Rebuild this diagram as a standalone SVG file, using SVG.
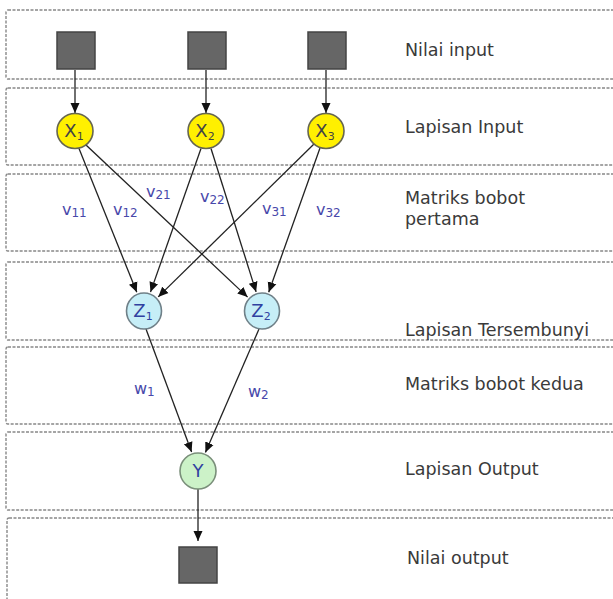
<svg xmlns="http://www.w3.org/2000/svg" width="613" height="599" viewBox="0 0 613 599">
<defs>
<marker id="ah" viewBox="0 0 10 10" refX="10" refY="5" markerWidth="10" markerHeight="10" markerUnits="userSpaceOnUse" orient="auto">
<path d="M0,0.5 L10,5 L0,9.5 z" fill="#111"/>
</marker>
</defs>
<style>
.band{fill:#fff;stroke:#888;stroke-width:1.4;stroke-dasharray:3 1.5}
.lbl{font-family:"DejaVu Sans",Verdana,sans-serif;font-size:17.5px;fill:#3a3a3a}
.sq{fill:#666;stroke:#444;stroke-width:1.5}
.xn{fill:#fff000;stroke:#666650;stroke-width:1.6}
.zn{fill:#c6eef7;stroke:#6f8088;stroke-width:1.6}
.yn{fill:#ccf2c8;stroke:#7a8f7a;stroke-width:1.6}
.nt{font-family:"DejaVu Sans",Verdana,sans-serif;font-size:18px;text-anchor:middle}
.xt{fill:#444}
.zt{fill:#3040a0}
.sub{font-size:11px}
.wt{font-family:"DejaVu Sans",Verdana,sans-serif;font-size:16px;fill:#4848aa}
.wsub{font-size:12px}
.edge{stroke:#222;stroke-width:1.3;fill:none;marker-end:url(#ah)}
</style>
<g id="bands">
<rect class="band" x="6" y="10" width="620" height="69" rx="2"/>
<rect class="band" x="6" y="88" width="620" height="77" rx="2"/>
<rect class="band" x="6" y="174" width="620" height="77" rx="2"/>
<rect class="band" x="6" y="262" width="620" height="78" rx="2"/>
<rect class="band" x="6" y="347" width="620" height="77" rx="2"/>
<rect class="band" x="6" y="432" width="620" height="78" rx="2"/>
<rect class="band" x="7" y="518" width="620" height="90" rx="2"/>
</g>
<g id="labels">
<text class="lbl" x="405" y="56">Nilai input</text>
<text class="lbl" x="405" y="133">Lapisan Input</text>
<text class="lbl" x="405" y="204">Matriks bobot</text>
<text class="lbl" x="405" y="225">pertama</text>
<text class="lbl" x="405" y="336">Lapisan Tersembunyi</text>
<text class="lbl" x="405" y="390">Matriks bobot kedua</text>
<text class="lbl" x="405" y="475">Lapisan Output</text>
<text class="lbl" x="407" y="564">Nilai output</text>
</g>
<g id="connectors">
<line class="edge" x1="75" y1="70" x2="75" y2="113"/>
<line class="edge" x1="206" y1="70" x2="206" y2="113"/>
<line class="edge" x1="326" y1="70" x2="326" y2="113"/>
<line class="edge" x1="79" y1="148.5" x2="136.8" y2="292.3"/>
<line class="edge" x1="86" y1="145" x2="247.6" y2="297.1"/>
<line class="edge" x1="201" y1="148.5" x2="150.5" y2="292.1"/>
<line class="edge" x1="211" y1="148.5" x2="256.1" y2="291.9"/>
<line class="edge" x1="314" y1="144" x2="158.2" y2="296.9"/>
<line class="edge" x1="320" y1="148" x2="268.7" y2="292.2"/>
<line class="edge" x1="146" y1="329" x2="191.6" y2="452.1"/>
<line class="edge" x1="259" y1="329" x2="205.4" y2="452.4"/>
<line class="edge" x1="198" y1="489" x2="198" y2="541"/>
</g>
<g id="weights">
<text class="wt" x="62" y="215">v<tspan class="wsub" dy="2">11</tspan></text>
<text class="wt" x="113" y="215">v<tspan class="wsub" dy="2">12</tspan></text>
<text class="wt" x="146" y="197">v<tspan class="wsub" dy="2">21</tspan></text>
<text class="wt" x="200" y="202">v<tspan class="wsub" dy="2">22</tspan></text>
<text class="wt" x="262" y="214">v<tspan class="wsub" dy="2">31</tspan></text>
<text class="wt" x="316" y="215">v<tspan class="wsub" dy="2">32</tspan></text>
<text class="wt" x="134" y="394">w<tspan class="wsub" dy="2">1</tspan></text>
<text class="wt" x="248" y="397">w<tspan class="wsub" dy="2">2</tspan></text>
</g>
<g id="in1"><rect class="sq" x="57" y="32" width="38" height="37"/></g>
<g id="in2"><rect class="sq" x="188" y="32" width="38" height="37"/></g>
<g id="in3"><rect class="sq" x="308" y="32" width="38" height="37"/></g>
<g id="x1"><ellipse class="xn" cx="75" cy="131" rx="18" ry="17.5"/><text class="nt xt" x="74" y="137">X<tspan class="sub" dy="3">1</tspan></text></g>
<g id="x2"><ellipse class="xn" cx="206" cy="131" rx="18" ry="17.5"/><text class="nt xt" x="205" y="137">X<tspan class="sub" dy="3">2</tspan></text></g>
<g id="x3"><ellipse class="xn" cx="326" cy="131" rx="18" ry="17.5"/><text class="nt xt" x="325" y="137">X<tspan class="sub" dy="3">3</tspan></text></g>
<g id="z1"><ellipse class="zn" cx="144" cy="311" rx="17.5" ry="18"/><text class="nt zt" x="143" y="317">Z<tspan class="sub" dy="3">1</tspan></text></g>
<g id="z2"><ellipse class="zn" cx="262" cy="311" rx="17.5" ry="18"/><text class="nt zt" x="261" y="317">Z<tspan class="sub" dy="3">2</tspan></text></g>
<g id="y"><ellipse class="yn" cx="198" cy="471" rx="18" ry="18"/><text class="nt zt" x="198" y="477">Y</text></g>
<g id="out"><rect class="sq" x="179" y="547" width="38" height="36"/></g>
</svg>
